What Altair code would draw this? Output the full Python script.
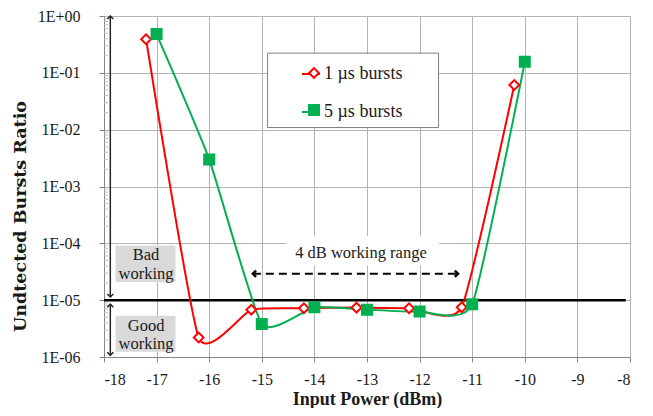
import altair as alt
import pandas as pd

# ---- data ----
series_names = ["1 µs bursts", "5 µs bursts"]
red_x = [-17.2, -16.2, -15.2, -14.2, -13.2, -12.2, -11.2, -10.2]
red_y = [0.39, 2.2e-6, 6.8e-6, 7.2e-6, 7.4e-6, 7.2e-6, 7.5e-6, 0.061]
green_x = [-17, -16, -15, -14, -13, -12, -11, -10]
green_y = [0.48, 0.003, 3.8e-6, 7.5e-6, 6.8e-6, 6.3e-6, 8.5e-6, 0.156]

x_ticks = list(range(-18, -7))
y_ticks = [1e-6, 1e-5, 1e-4, 1e-3, 1e-2, 1e-1, 1.0]
minor_ticks = [k * 10.0 ** e for e in range(-6, 0) for k in range(2, 10)]

# annotations (data coordinates)
threshold = 1e-5
threshold_x = [-18, -8.08]
legend_box_x = [-14.89, -11.64]
legend_box_y = [0.222, 0.0109]
range_box_x = [-14.53, -11.63]
range_box_y = [1.36e-4, 4.08e-5]
gray_box_x = [-17.78, -16.64]
gray_box_y = [[9.12e-5, 2.09e-5], [5.32e-6, 1.24e-6]]
text_labels = ["Bad", "working", "Good", "working", "4 dB working range"]
text_x = [-17.2, -17.2, -17.2, -17.2, -13.115]
text_y = [6.18e-5, 2.84e-5, 3.56e-6, 1.71e-6, 6.8e-5]
varrow_x = -17.88
varrow_seg = [[1.0, 1.14e-5], [8.5e-6, 1.07e-6]]
harrow_x = [-15.17, -11.27]
harrow_y = 2.92e-5

RED = "#ff0000"
GREEN = "#00b050"
FONT = "Liberation Serif"

# marker legend keys (kept distinct from the line legend keys so the two legends stay separate)
marker_keys = [s + " " for s in series_names]

df = pd.DataFrame({
    "x": red_x + green_x,
    "y": red_y + green_y,
    "series": [series_names[0]] * len(red_x) + [series_names[1]] * len(green_x),
})
df["series2"] = df["series"] + " "

x_scale = alt.Scale(domain=[-18, -8], nice=False, zero=False)
y_scale = alt.Scale(type="log", domain=[1e-6, 1], nice=False)

x_axis = alt.Axis(values=x_ticks, labelExpr="'' + datum.value", grid=True,
                  tickSize=5, labelPadding=9, titleY=42, titleBaseline="middle")
y_axis = alt.Axis(values=y_ticks,
                  labelExpr="'1E' + (datum.value >= 1 ? '+00' : '-0' + format(round(-log(datum.value) / LN10), 'd'))",
                  grid=True, tickSize=5, labelPadding=19,
                  titleX=-84, titleY=200, titleAngle=270, titleAlign="center",
                  titleBaseline="middle", titleFont="DejaVu Serif", titleFontSize=17.5)

X_TITLE = "Input Power (dBm)"
Y_TITLE = "Undtected Bursts Ratio"


def X(field="x"):
    return alt.X(f"{field}:Q", scale=x_scale, axis=x_axis, title=X_TITLE)


def Y(field="y"):
    return alt.Y(f"{field}:Q", scale=y_scale, axis=y_axis, title=Y_TITLE)


# rectangles
legend_box = alt.Chart(pd.DataFrame({"x": [legend_box_x[0]], "x2": [legend_box_x[1]],
                                     "y": [legend_box_y[0]], "y2": [legend_box_y[1]]})).mark_rect(
    fill="white", stroke="#7f7f7f", strokeWidth=1).encode(x=X(), x2="x2:Q", y=Y(), y2="y2:Q")

range_box = alt.Chart(pd.DataFrame({"x": [range_box_x[0]], "x2": [range_box_x[1]],
                                    "y": [range_box_y[0]], "y2": [range_box_y[1]]})).mark_rect(
    fill="white").encode(x=X(), x2="x2:Q", y=Y(), y2="y2:Q")

gray_boxes = alt.Chart(pd.DataFrame({"x": [gray_box_x[0]] * 2, "x2": [gray_box_x[1]] * 2,
                                     "y": [b[0] for b in gray_box_y], "y2": [b[1] for b in gray_box_y]})).mark_rect(
    fill="#d9d9d9").encode(x=X(), x2="x2:Q", y=Y(), y2="y2:Q")

minor = alt.Chart(pd.DataFrame({"y": minor_ticks})).mark_rule(color="#bfbfbf", strokeWidth=1).encode(
    y=Y(), x=alt.value(0), x2=alt.value(4))

thresh = alt.Chart(pd.DataFrame({"x": [threshold_x[0]], "x2": [threshold_x[1]], "y": [threshold]})).mark_rule(
    color="black", strokeWidth=2.5).encode(x=X(), x2="x2:Q", y=Y())

legend_common = dict(orient="none", legendX=197, legendY=48, title=None, padding=0,
                     rowPadding=19, labelFont=FONT, labelFontSize=18, labelColor="#1a1a1a")

lines = alt.Chart(df).mark_line(interpolate="cardinal", tension=0.5, strokeWidth=2, clip=True).encode(
    x=X(), y=Y(),
    color=alt.Color("series:N", scale=alt.Scale(domain=series_names, range=[RED, GREEN]),
                    legend=alt.Legend(symbolType="stroke", symbolSize=324, symbolStrokeWidth=2,
                                      labelOffset=3, **legend_common)),
    detail="series:N",
)

pt_legend = alt.Legend(symbolOffset=4, labelOffset=6, labelExpr="' '", symbolStrokeWidth=2, **legend_common)
points = alt.Chart(df).mark_point(strokeWidth=2, opacity=1).encode(
    x=X(), y=Y(),
    shape=alt.Shape("series2:N", scale=alt.Scale(domain=marker_keys, range=["diamond", "square"]), legend=pt_legend),
    stroke=alt.Stroke("series2:N", scale=alt.Scale(domain=marker_keys, range=[RED, GREEN]), legend=pt_legend),
    fill=alt.Fill("series2:N", scale=alt.Scale(domain=marker_keys, range=["white", GREEN]), legend=pt_legend),
    size=alt.Size("series2:N", scale=alt.Scale(domain=marker_keys, range=[95, 100]), legend=pt_legend),
)

varrows = alt.Chart(pd.DataFrame({"x": [varrow_x] * 2, "y": [s[0] for s in varrow_seg],
                                  "y2": [s[1] for s in varrow_seg]})).mark_rule(
    color="#262626", strokeWidth=1.5).encode(x=X(), y=Y(), y2="y2:Q")
v_up = alt.Chart(pd.DataFrame({"x": [varrow_x] * 2, "y": [s[0] for s in varrow_seg]})).mark_point(
    shape="M-1,1L0,0L1,1", size=36, filled=False, stroke="#262626", strokeWidth=1.5, opacity=1).encode(x=X(), y=Y())
v_down = alt.Chart(pd.DataFrame({"x": [varrow_x] * 2, "y": [s[1] for s in varrow_seg]})).mark_point(
    shape="M-1,-1L0,0L1,-1", size=36, filled=False, stroke="#262626", strokeWidth=1.5, opacity=1).encode(x=X(), y=Y())

harrow = alt.Chart(pd.DataFrame({"x": [harrow_x[0]], "x2": [harrow_x[1]], "y": [harrow_y]})).mark_rule(
    color="black", strokeWidth=2, strokeDash=[8, 5]).encode(x=X(), x2="x2:Q", y=Y())
h_left = alt.Chart(pd.DataFrame({"x": [harrow_x[0]], "y": [harrow_y]})).mark_point(
    shape="M1,-1L0,0L1,1", size=40, filled=False, stroke="black", strokeWidth=2.5, opacity=1).encode(x=X(), y=Y())
h_right = alt.Chart(pd.DataFrame({"x": [harrow_x[1]], "y": [harrow_y]})).mark_point(
    shape="M-1,-1L0,0L-1,1", size=40, filled=False, stroke="black", strokeWidth=2.5, opacity=1).encode(x=X(), y=Y())

texts = alt.Chart(pd.DataFrame({"x": text_x, "y": text_y, "t": text_labels})).mark_text(
    font=FONT, fontSize=16.5, color="#1a1a1a", baseline="middle", align="center").encode(
    x=X(), y=Y(), text="t:N")

chart = alt.layer(
    legend_box, range_box, gray_boxes, minor, thresh, lines, points,
    varrows, v_up, v_down, harrow, h_left, h_right, texts,
).properties(
    width=526, height=341,
    autosize=alt.AutoSizeParams(type="none"),
    padding={"left": 96, "top": 8, "right": 15, "bottom": 51},
    background="white",
).configure_view(stroke=None).configure_axis(
    labelFont=FONT, labelFontSize=16, labelColor="#1a1a1a",
    titleFont=FONT, titleFontSize=18, titleFontWeight="bold", titleColor="#1a1a1a",
    gridColor="#b3b3b3", gridWidth=1, domainColor="#868686", tickColor="#868686",
)

chart.save("out.html", embed_options={"renderer": "svg", "actions": False})
